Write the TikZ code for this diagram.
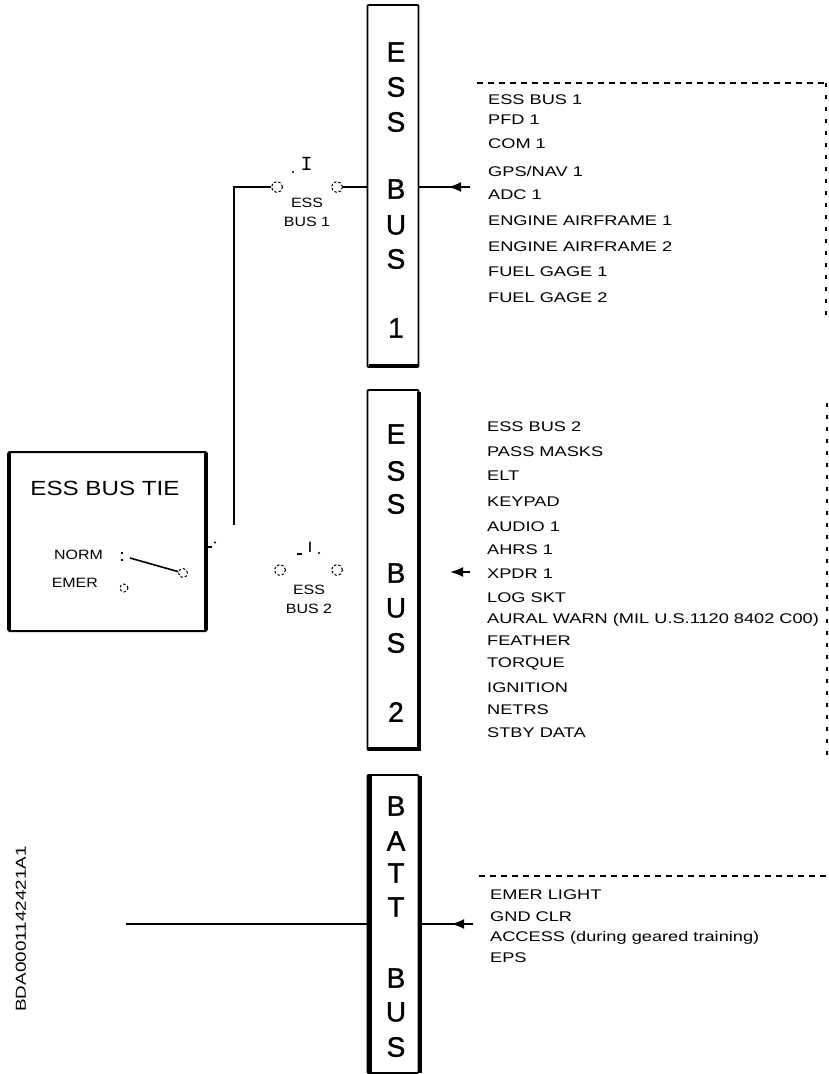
\documentclass[tikz,border=0pt]{standalone}
\usepackage{fontspec}
\setmainfont{Liberation Sans}
\newfontfamily\widef[FakeStretch=1.3]{Liberation Sans}
\newfontfamily\tief[FakeStretch=1.18]{Liberation Sans}
\newfontfamily\busf[FakeBold=1.2]{Liberation Sans}
\newfontfamily\monof{Liberation Mono}
\usetikzlibrary{arrows.meta}
\tikzset{
  x=1pt,y=-1pt,
  bus/.style={draw,line width=1.8pt,rounded corners=1pt,minimum width=51pt,inner sep=0pt},
  wire/.style={line width=1.6pt},
  buslet/.style={font=\busf\fontsize{28}{28}\selectfont,inner sep=0pt},
  lbl/.style={font=\widef\fontsize{14}{14}\selectfont,anchor=west,inner sep=0pt},
  sw/.style={font=\tief\fontsize{13.5}{19}\selectfont,inner sep=0pt,align=center},
  term/.style={circle,draw,line width=1pt,dash pattern=on 2.5pt off 2pt,minimum size=11pt,inner sep=0pt},
  hdots/.style={line width=1.4pt,dash pattern=on 6pt off 5pt},
  vdots/.style={line width=1.6pt,dash pattern=on 4pt off 8pt},
  arr/.style={-{Latex[length=13pt,width=10pt]},line width=2pt}
}
\begin{document}
\begin{tikzpicture}
\useasboundingbox (0,0) rectangle (828,1074);
% buses
\node[bus,minimum height=362pt] (b1) at (393,186) {};
\node[bus,minimum height=360pt] (b2) at (393,570) {};
\node[bus,minimum height=298pt] (b3) at (393,924) {};
\draw[line width=3.5pt] (369,366) -- (418,366);
\draw[line width=3.2pt] (419,392) -- (419,749) -- (368,749);
\draw[line width=4.5pt] (370,776) -- (370,1073);
\draw[line width=3.5pt] (420,776) -- (420,1073);
\foreach \t/\y in {E/52,S/87,S/122,B/189,U/225,S/259,1/328}{\node[buslet] at (396,\y) {\t};}
\foreach \t/\y in {E/434,S/471,S/504,B/573,U/608,S/643,2/712}{\node[buslet] at (396,\y) {\t};}
\foreach \t/\y in {B/806,A/841,T/873,T/907,B/978,U/1012,S/1047}{\node[buslet] at (396,\y) {\t};}
% tie box
\node[draw,line width=2pt,rounded corners=1pt,minimum width=198pt,minimum height=179pt,inner sep=0pt] (tie) at (107.5,541.5) {};
\draw[line width=3.5pt] (9,453) -- (9,630);
\draw[line width=3.5pt] (206,453) -- (206,630);
\node[inner sep=0pt,font=\tief\fontsize{20.5}{21}\selectfont] (tietxt) at (105,488) {ESS BUS TIE};
\node[sw,anchor=east] (norm) at (103,555) {NORM};
\node[sw,anchor=east] (emer) at (98,583) {EMER};
\coordinate (n0) at (130,558);
\node[term,minimum size=9pt] (n1) at (183,573) {};
\node[term,minimum size=8pt] (n2) at (124,588) {};
\draw[line width=1.6pt] (n0) -- (n1);
\draw[line width=1.4pt,dash pattern=on 2pt off 5pt] (122,552) -- (122,562);
\coordinate (tk) at (212,547);
\draw[line width=1.4pt] (tie.east |- tk) -- (tk);
\fill (215,542.5) circle (1.2pt);
% top switch
\coordinate (up) at (234,525);
\node[term] (s1) at (277,187) {};
\node[term] (s2) at (337,187) {};
\draw[wire] (up) |- (s1);
\draw[wire] (s2) -- (b1.west |- s2);
\node[sw,font=\monof\fontsize{20}{20}\selectfont] (t1) at (306.5,164) {I};
\fill (293,172) circle (1.2pt);
\node[sw] (esb1) at (307,212) {ESS\\BUS 1};
% bus 2 switch
\node[term] (s3) at (280,570) {};
\node[term] (s4) at (337,570) {};
\node[sw,font=\tief\fontsize{15}{15}\selectfont] (t2) at (310,547) {I};
\fill (319,553) circle (1.2pt);
\draw[line width=1.4pt] (297,554) -- (302,554);
\node[sw] (esb2) at (309,599) {ESS\\BUS 2};
% arrows
\coordinate (a1) at (470,187);
\draw[wire] (b1.east |- a1) -- (a1);
\draw[arr] (a1) -- (448,187);
\coordinate (a2a) at (470,572); \coordinate (a2b) at (450,572);
\draw[arr] (a2a) -- (a2b);
\coordinate (fd) at (126,924);
\coordinate (a3) at (473,924);
\draw[wire] (fd) -- (b3.west |- fd);
\draw[wire] (b3.east |- a3) -- (a3);
\draw[arr] (a3) -- (451,924);
% dotted
\draw[hdots] (477,83) -- (828,83);
\draw[vdots] (826,83) -- (826,319);
\draw[vdots] (827,403) -- (827,760);
\draw[hdots] (479,876) -- (828,876);
% lists
\foreach \t/\y in {ESS BUS 1/100,PFD 1/120,COM 1/144,{GPS/NAV 1}/171,ADC 1/195,ENGINE AIRFRAME 1/221,ENGINE AIRFRAME 2/247,FUEL GAGE 1/272,FUEL GAGE 2/298}
  {\node[lbl] at (488,\y) {\t};}
\foreach \t/\y in {ESS BUS 2/427,PASS MASKS/452,ELT/476,KEYPAD/502,AUDIO 1/527,AHRS 1/550,XPDR 1/574,LOG SKT/598,{AURAL WARN (MIL U.S.1120 8402 C00)}/620,FEATHER/641,TORQUE/664,IGNITION/688,NETRS/710,STBY DATA/733}
  {\node[lbl] at (487,\y) {\t};}
\foreach \t/\y in {EMER LIGHT/895,GND CLR/917,{ACCESS (during geared training)}/938,EPS/958}
  {\node[lbl] at (490,\y) {\t};}
\node[rotate=90,inner sep=0pt,font=\widef\fontsize{14.5}{15}\selectfont] (code) at (21,929) {BDA0001142421A1};
\end{tikzpicture}
\end{document}
